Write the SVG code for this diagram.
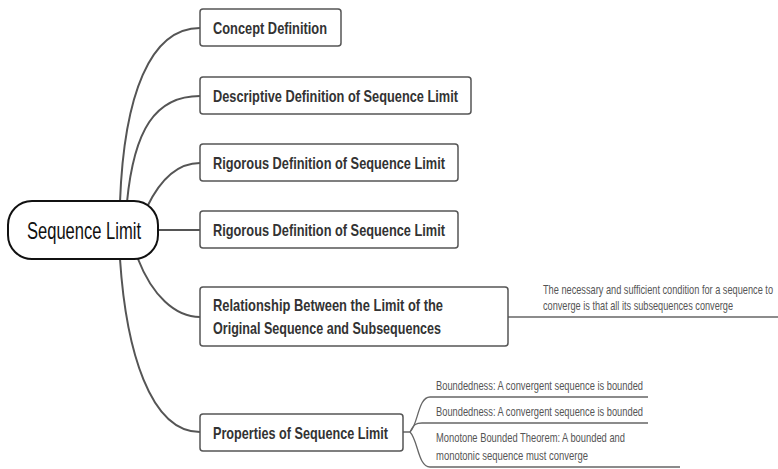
<svg xmlns="http://www.w3.org/2000/svg" width="778" height="469" viewBox="0 0 778 469">
<style>
.box{fill:#fff;stroke:#555;stroke-width:1.5}
.root{fill:#fff;stroke:#111;stroke-width:2}
.bt{font-family:"Liberation Sans",Arial,sans-serif;font-weight:bold;font-size:16.5px;fill:#333}
.rt{font-family:"Liberation Sans",Arial,sans-serif;font-size:24px;fill:#111}
.nt{font-family:"Liberation Sans",Arial,sans-serif;font-size:13px;fill:#555}
.ln{fill:none;stroke:#555;stroke-width:2}
.sl{fill:none;stroke:#666;stroke-width:1.3}
</style>
<g id="connectors">
<path class="ln" d="M120,202 C124,95 150,28 200,28"/>
<path class="ln" d="M127,202 C134,130 155,96 200,96"/>
<path class="ln" d="M147,207 C160,180 178,163 200,163"/>
<path class="ln" d="M158,230 L200,230"/>
<path class="ln" d="M138,259 C152,295 175,317 200,317"/>
<path class="ln" d="M120,259 C126,350 150,432 200,432"/>
<path class="sl" d="M508,317 L778,317"/>
<path class="sl" d="M403,432 L410,432 C418,425 418,397 430,397 L648,397"/>
<path class="sl" d="M410,432 C414,424 416,423 422,423 L648,423"/>
<path class="sl" d="M410,432 C418,440 418,467 430,467 L680,467"/>
</g>
<g id="root">
<rect class="root" x="8" y="201" width="150" height="58" rx="24"/>
<text class="rt" x="27" y="238.5" textLength="114" lengthAdjust="spacingAndGlyphs">Sequence Limit</text>
</g>
<g id="n1">
<rect class="box" x="200" y="9" width="141" height="37" rx="3"/>
<text class="bt" x="213" y="33.5" textLength="114" lengthAdjust="spacingAndGlyphs">Concept Definition</text>
</g>
<g id="n2">
<rect class="box" x="200" y="77" width="271" height="37" rx="3"/>
<text class="bt" x="213" y="101.5" textLength="245" lengthAdjust="spacingAndGlyphs">Descriptive Definition of Sequence Limit</text>
</g>
<g id="n3">
<rect class="box" x="200" y="144" width="258" height="37" rx="3"/>
<text class="bt" x="213" y="168.5" textLength="232" lengthAdjust="spacingAndGlyphs">Rigorous Definition of Sequence Limit</text>
</g>
<g id="n4">
<rect class="box" x="200" y="211" width="258" height="37" rx="3"/>
<text class="bt" x="213" y="235.5" textLength="232" lengthAdjust="spacingAndGlyphs">Rigorous Definition of Sequence Limit</text>
</g>
<g id="n5">
<rect class="box" x="200" y="287" width="308" height="59" rx="3"/>
<text class="bt" x="213" y="310.5" textLength="230" lengthAdjust="spacingAndGlyphs">Relationship Between the Limit of the</text>
<text class="bt" x="213" y="333.5" textLength="228" lengthAdjust="spacingAndGlyphs">Original Sequence and Subsequences</text>
</g>
<g id="n6">
<rect class="box" x="200" y="414" width="203" height="37" rx="3"/>
<text class="bt" x="213" y="438.5" textLength="175" lengthAdjust="spacingAndGlyphs">Properties of Sequence Limit</text>
</g>
<g id="note5">
<text class="nt" x="543" y="294" textLength="230" lengthAdjust="spacingAndGlyphs">The necessary and sufficient condition for a sequence to</text>
<text class="nt" x="543" y="310" textLength="190" lengthAdjust="spacingAndGlyphs">converge is that all its subsequences converge</text>
</g>
<g id="p1">
<text class="nt" x="436" y="390" textLength="207" lengthAdjust="spacingAndGlyphs">Boundedness: A convergent sequence is bounded</text>
</g>
<g id="p2">
<text class="nt" x="436" y="416" textLength="207" lengthAdjust="spacingAndGlyphs">Boundedness: A convergent sequence is bounded</text>
</g>
<g id="p3">
<text class="nt" x="436" y="442" textLength="189" lengthAdjust="spacingAndGlyphs">Monotone Bounded Theorem: A bounded and</text>
<text class="nt" x="436" y="460" textLength="152" lengthAdjust="spacingAndGlyphs">monotonic sequence must converge</text>
</g>
</svg>
